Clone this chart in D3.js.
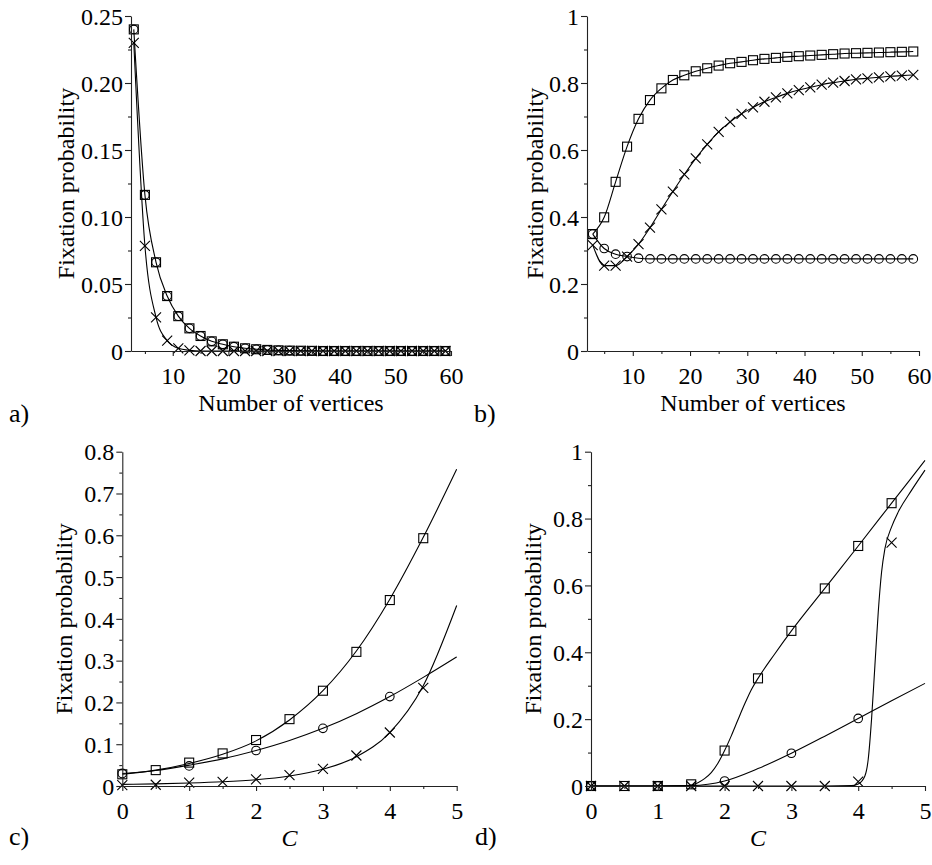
<!DOCTYPE html>
<html>
<head>
<meta charset="utf-8">
<script src="https://cdn.jsdelivr.net/npm/d3@7"></script>
<style>
  html, body { margin: 0; padding: 0; background: #fff; }
  svg { display: block; }
  svg text { font-family: "Liberation Serif", "Tinos", "Times New Roman", serif; }
</style>
</head>
<body>
<svg id="fig" width="932" height="865"></svg>
<script>
// ---------- data ----------
// number of vertices (panels a, b)
const vertices = [3,5,7,9,11,13,15,17,19,21,23,25,27,29,31,33,35,37,39,41,43,45,47,49,51,53,55,57,59];

// panel a
const aSquare = [0.240,0.1165,0.0662,0.041,0.026,0.0169,0.0112,0.0072,0.005,0.0032,0.002,0.0013,0.0008,0.0005,0.0003,0.0002,0.0001,0,0,0,0,0,0,0,0,0,0,0,0];
const aCircle = [0.240,0.1165,0.0662,0.041,0.026,0.0169,0.0112,0.0072,0.005,0.0032,0.002,0.0013,0.0008,0.0005,0.0003,0.0002,0.0001,0,0,0,0,0,0,0,0,0,0,0,0];
const aCross  = [0.230,0.0785,0.0251,0.0077,0.002,0.0005,0,0,0,0,0,0,0,0,0,0,0,0,0,0,0,0,0,0,0,0,0,0,0];

// panel b
const bSquare = [0.349,0.399,0.505,0.610,0.693,0.749,0.784,0.809,0.823,0.835,0.844,0.852,0.859,0.863,0.868,0.872,0.875,0.878,0.880,0.882,0.884,0.886,0.888,0.889,0.890,0.891,0.892,0.893,0.894];
const bCircle = [0.349,0.306,0.289,0.282,0.277,0.275,0.275,0.275,0.275,0.275,0.275,0.275,0.275,0.275,0.275,0.275,0.275,0.275,0.275,0.275,0.275,0.275,0.275,0.275,0.275,0.275,0.275,0.275,0.275];
const bCross  = [0.316,0.255,0.255,0.282,0.319,0.368,0.423,0.476,0.527,0.575,0.617,0.654,0.684,0.708,0.727,0.744,0.757,0.769,0.779,0.787,0.795,0.801,0.806,0.811,0.814,0.817,0.820,0.822,0.824];

// panel c: simulated points
const cHalfSteps = [0,0.5,1,1.5,2,2.5,3,3.5,4,4.5];
const cUnitSteps = [0,1,2,3,4];
const cSquare = [0.028,0.038,0.056,0.078,0.110,0.160,0.228,0.321,0.445,0.593];
const cCircle = [0.030,0.048,0.085,0.138,0.214];
const cCross  = [0.002,0.003,0.008,0.010,0.016,0.026,0.041,0.073,0.128,0.235];
// panel c: analytic curves
const cCurveC = [0,0.5,1,1.5,2,2.5,3,3.5,4,4.5,5];
const cSquareCurve = [0.028,0.038,0.054,0.076,0.108,0.158,0.228,0.323,0.447,0.595,0.758];
const cCircleCurve = [0.030,0.037,0.050,0.065,0.085,0.109,0.138,0.173,0.214,0.260,0.309];
const cCrossCurve  = [0.004,0.005,0.007,0.010,0.015,0.024,0.040,0.070,0.128,0.240,0.432];

// panel d: simulated points
const dHalfSteps = [0,0.5,1,1.5,2,2.5,3,3.5,4,4.5];
const dUnitSteps = [0,1,2,3,4];
const dSquare = [0,0,0,0.005,0.106,0.322,0.464,0.591,0.718,0.846];
const dCircle = [0,0,0.015,0.098,0.202];
const dCross  = [0,0,0,0,0,0,0,0,0.013,0.728];
// panel d: analytic curves
const dSquareCurveC = [0,1,1.4,1.5,1.6,1.7,1.8,1.9,2.0,2.1,2.2,2.3,2.4,2.5,2.75,3,3.5,4,4.5,5];
const dSquareCurve  = [0,0,0.001,0.003,0.01,0.022,0.040,0.068,0.106,0.150,0.198,0.245,0.288,0.322,0.395,0.464,0.591,0.718,0.846,0.974];
const dCircleCurveC = [0,1,1.5,1.75,2,2.5,3,3.5,4,4.5,5];
const dCircleCurve  = [0,0,0.001,0.005,0.015,0.052,0.098,0.149,0.202,0.255,0.307];
const dCrossCurveC  = [0,3.5,3.9,4.0,4.1,4.15,4.2,4.25,4.3,4.35,4.4,4.5,4.6,4.8,5];
const dCrossCurve   = [0,0,0.001,0.006,0.03,0.08,0.2,0.36,0.52,0.64,0.71,0.775,0.82,0.885,0.945];

// axis ticks and labels
const aXTicks = [10,20,30,40,50,60], aXMinor = [5,15,25,35,45,55];
const aYTicks = [0,0.05,0.10,0.15,0.20,0.25], aYLabels = ["0","0.05","0.10","0.15","0.20","0.25"];
const aYMinor = [0.025,0.075,0.125,0.175,0.225];
const bXTicks = [10,20,30,40,50,60], bXMinor = [5,15,25,35,45,55];
const bYTicks = [0,0.2,0.4,0.6,0.8,1], bYLabels = ["0","0.2","0.4","0.6","0.8","1"];
const bYMinor = [0.1,0.3,0.5,0.7,0.9];
const cXTicks = [0,1,2,3,4,5], cXMinor = [0.5,1.5,2.5,3.5,4.5];
const cYTicks = [0,0.1,0.2,0.3,0.4,0.5,0.6,0.7,0.8], cYLabels = ["0","0.1","0.2","0.3","0.4","0.5","0.6","0.7","0.8"];
const cYMinor = [0.05,0.15,0.25,0.35,0.45,0.55,0.65,0.75];
const dXTicks = [0,1,2,3,4,5], dXMinor = [0.5,1.5,2.5,3.5,4.5];
const dYTicks = [0,0.2,0.4,0.6,0.8,1], dYLabels = ["0","0.2","0.4","0.6","0.8","1"];
const dYMinor = [0.1,0.3,0.5,0.7,0.9];

const yTitle = "Fixation probability";
const nTitle = "Number of vertices";
const cTitle = "C";

// ---------- drawing ----------
const svg = d3.select("#fig");

function zip(xs, ys) { return xs.map((x, i) => [x, ys[i]]); }

function panel(p) {
  const g = svg.append("g");
  const x = d3.scaleLinear().domain(p.xDomain).range(p.xRange);
  const y = d3.scaleLinear().domain(p.yDomain).range(p.yRange);

  // curves
  const line = d3.line().x(d => x(d[0])).y(d => y(d[1])).curve(d3.curveMonotoneX);
  p.curves.forEach(c => {
    g.append("path").attr("d", line(c)).attr("fill", "none")
      .attr("stroke", "#000").attr("stroke-width", 1.1);
  });

  // markers
  p.squares.forEach(([a, b]) => {
    g.append("rect").attr("x", x(a) - 4.5).attr("y", y(b) - 4.5)
      .attr("width", 9).attr("height", 9)
      .attr("fill", "none").attr("stroke", "#000").attr("stroke-width", 1.1);
  });
  p.circles.forEach(([a, b]) => {
    g.append("circle").attr("cx", x(a)).attr("cy", y(b)).attr("r", 4.3)
      .attr("fill", "none").attr("stroke", "#000").attr("stroke-width", 1.1);
  });
  p.crosses.forEach(([a, b]) => {
    const cx = x(a), cy = y(b), s = 5;
    g.append("path").attr("d", `M${cx - s},${cy - s}L${cx + s},${cy + s}M${cx - s},${cy + s}L${cx + s},${cy - s}`)
      .attr("fill", "none").attr("stroke", "#000").attr("stroke-width", 1.1);
  });

  // axes
  const y0 = p.yRange[0], x0 = p.xRange[0];
  const xAxis = g.append("g").attr("transform", `translate(0,${y0})`)
    .call(d3.axisBottom(x).tickValues(p.xTicks).tickSize(5).tickSizeOuter(0).tickPadding(11)
      .tickFormat(d3.format("d")));
  const xMinor = g.append("g").attr("transform", `translate(0,${y0})`)
    .call(d3.axisBottom(x).tickValues(p.xMinor).tickSize(3).tickFormat(""));
  const yAxis = g.append("g").attr("transform", `translate(${x0},0)`)
    .call(d3.axisLeft(y).tickValues(p.yTicks).tickSize(6).tickSizeOuter(0).tickPadding(2)
      .tickFormat((d, i) => p.yLabels[i]));
  const yMinor = g.append("g").attr("transform", `translate(${x0},0)`)
    .call(d3.axisLeft(y).tickValues(p.yMinor).tickSize(3).tickFormat(""));
  [xMinor, yMinor].forEach(a => a.select(".domain").remove());
  [xAxis, xMinor, yAxis, yMinor].forEach(a => {
    a.attr("font-family", null).attr("font-size", null);
    a.selectAll("path,line").attr("stroke", "#222").attr("stroke-width", 1.1);
    a.selectAll("text").style("font-size", "24px").attr("fill", "#000");
  });
  yAxis.selectAll("text").attr("dy", "0.34em");

  // titles
  const yMid = (p.yRange[0] + p.yRange[1]) / 2;
  g.append("text").attr("transform", `translate(${p.yTitleX},${yMid}) rotate(-90)`)
    .attr("text-anchor", "middle").attr("dy", "0.3em")
    .style("font-size", "24px").text(yTitle);
  const xMid = (p.xRange[0] + p.xRange[1]) / 2;
  g.append("text").attr("x", xMid).attr("y", y0 + 52).attr("dy", "0.35em")
    .attr("text-anchor", "middle").style("font-size", "24px")
    .style("font-style", p.xTitleItalic ? "italic" : "normal").text(p.xTitle);
  g.append("text").attr("x", p.tag[0]).attr("y", p.tag[1])
    .style("font-size", "26px").text(p.tag[2]);
}

panel({
  xDomain: [2.5, 60], xRange: [131, 451], yDomain: [0, 0.25], yRange: [351, 16],
  xTicks: aXTicks, xMinor: aXMinor, yTicks: aYTicks, yLabels: aYLabels, yMinor: aYMinor,
  curves: [zip(vertices, aSquare), zip(vertices, aCross)],
  squares: zip(vertices, aSquare), circles: zip(vertices, aCircle), crosses: zip(vertices, aCross),
  yTitleX: 67, xTitle: nTitle, tag: [9, 422, "a)"]
});
panel({
  xDomain: [2, 60], xRange: [587, 919], yDomain: [0, 1], yRange: [351, 16],
  xTicks: bXTicks, xMinor: bXMinor, yTicks: bYTicks, yLabels: bYLabels, yMinor: bYMinor,
  curves: [zip(vertices, bSquare), zip(vertices, bCircle), zip(vertices, bCross)],
  squares: zip(vertices, bSquare), circles: zip(vertices, bCircle), crosses: zip(vertices, bCross),
  yTitleX: 536, xTitle: nTitle, tag: [474, 422, "b)"]
});
panel({
  xDomain: [0, 5], xRange: [122.3, 456.7], yDomain: [0, 0.8], yRange: [786, 451.7],
  xTicks: cXTicks, xMinor: cXMinor, yTicks: cYTicks, yLabels: cYLabels, yMinor: cYMinor,
  curves: [zip(cCurveC, cSquareCurve), zip(cCurveC, cCircleCurve), zip(cCurveC, cCrossCurve)],
  squares: zip(cHalfSteps, cSquare), circles: zip(cUnitSteps, cCircle), crosses: zip(cHalfSteps, cCross),
  yTitleX: 65, xTitle: cTitle, xTitleItalic: true, tag: [9, 845, "c)"]
});
panel({
  xDomain: [0, 5], xRange: [591, 925], yDomain: [0, 1], yRange: [786, 451.7],
  xTicks: dXTicks, xMinor: dXMinor, yTicks: dYTicks, yLabels: dYLabels, yMinor: dYMinor,
  curves: [zip(dSquareCurveC, dSquareCurve), zip(dCircleCurveC, dCircleCurve), zip(dCrossCurveC, dCrossCurve)],
  squares: zip(dHalfSteps, dSquare), circles: zip(dUnitSteps, dCircle), crosses: zip(dHalfSteps, dCross),
  yTitleX: 534, xTitle: cTitle, xTitleItalic: true, tag: [475, 845, "d)"]
});
</script>
</body>
</html>
